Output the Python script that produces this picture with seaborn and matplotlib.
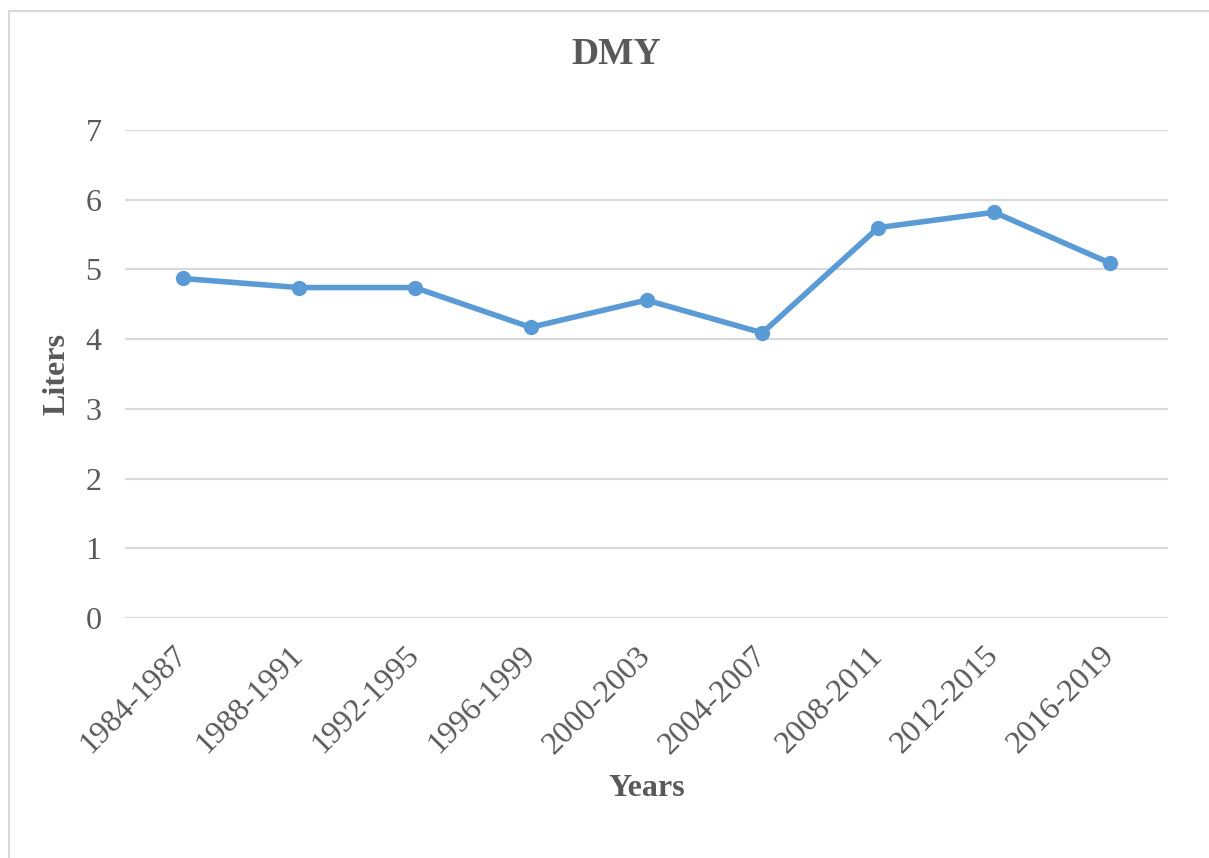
import matplotlib
matplotlib.use("Agg")
import matplotlib.pyplot as plt
import seaborn as sns
import pandas as pd
from matplotlib.lines import Line2D

periods = ["1984-1987", "1988-1991", "1992-1995", "1996-1999", "2000-2003",
           "2004-2007", "2008-2011", "2012-2015", "2016-2019"]
dmy = [4.87, 4.74, 4.74, 4.17, 4.56, 4.09, 5.60, 5.82, 5.09]
yticks = [0, 1, 2, 3, 4, 5, 6, 7]

df = pd.DataFrame({"Years": periods, "Liters": dmy})

sns.set_theme(style="white")
plt.rcParams['font.family'] = ['Liberation Serif', 'DejaVu Serif']

fig = plt.figure(figsize=(12.09, 8.58), dpi=100)
ax = fig.add_axes([125/1209, 1-618/858, (1168-125)/1209, (618-130)/858])

line_color = "#5B9BD5"
text_color = "#595959"

sns.lineplot(data=df, x="Years", y="Liters", ax=ax, color=line_color,
             linewidth=4, marker="o", markersize=11, markeredgewidth=0,
             sort=False, zorder=3)

ax.set_ylim(0, 7)
ax.set_xlim(-0.5, len(periods) - 0.5)
ax.set_yticks(yticks)
ax.set_yticklabels([str(t) for t in yticks], fontsize=23, color=text_color)
ax.set_xticks(range(len(periods)))
ax.set_xticklabels(periods, fontsize=23, color=text_color, rotation=45,
                   ha="right", va="center", rotation_mode="anchor")
ax.tick_params(axis="y", length=0, pad=17)
ax.tick_params(axis="x", length=0, pad=24)

ax.grid(axis="y", color="#D9D9D9", linewidth=1.6)
ax.grid(axis="x", visible=False)
for s in ax.spines.values():
    s.set_visible(False)

ax.set_xlabel("")
ax.set_ylabel("")
fig.text(616/1209, 1-55/858, "DMY", fontsize=27, fontweight="bold",
         color=text_color, ha="center", va="center")
fig.text(647/1209, 1-789/858, "Years", fontsize=23, fontweight="bold",
         color=text_color, ha="center", va="center")
fig.text(57/1209, 1-374/858, "Liters", fontsize=23, fontweight="bold",
         color=text_color, ha="center", va="center", rotation=90)

# outer chart-area border (top and left visible)
fig.add_artist(Line2D([9/1209, 9/1209], [0, 1-11/858], transform=fig.transFigure,
                      color="#D9D9D9", linewidth=1.5))
fig.add_artist(Line2D([9/1209, 1], [1-11/858, 1-11/858], transform=fig.transFigure,
                      color="#D9D9D9", linewidth=1.5))

fig.savefig("out.png", dpi=100)
